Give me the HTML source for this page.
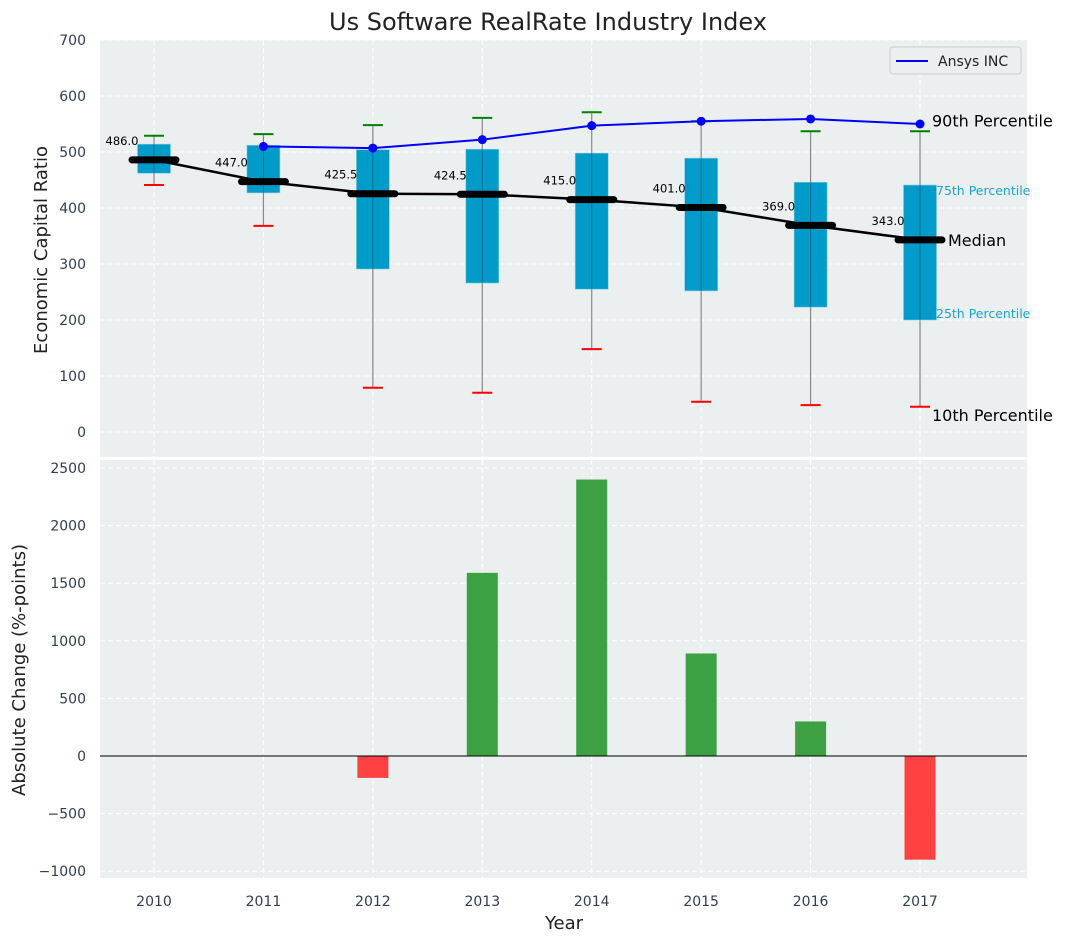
<!DOCTYPE html>
<html><head><meta charset="utf-8"><style>
body{margin:0;background:#fff;}
svg{display:block;font-family:"DejaVu Sans","Liberation Sans",sans-serif;}
</style></head><body>
<svg id="chart" width="1067" height="942" viewBox="0 0 1067 942" xmlns="http://www.w3.org/2000/svg"></svg>
<script>
const years=[2010,2011,2012,2013,2014,2015,2016,2017];
const p10=[441,368,79,70,148,54,48,45];
const p25=[462,427,291,266,255,252,223,200];
const median=[486,447,425.5,424.5,415,401,369,343];
const p75=[514,512,504,505,498,489,446,441];
const p90=[529,532,548,561,571,555,537,537];
const ansysYears=[2011,2012,2013,2014,2015,2016,2017];
const ansys=[510,507,522,547,555,559,550];
const changes=[0,0,-190,1590,2400,890,300,-900];
const topTicks=[0,100,200,300,400,500,600,700];
const botTicks=[-1000,-500,0,500,1000,1500,2000,2500];

const NS="http://www.w3.org/2000/svg";
const svg=document.getElementById('chart');
function el(tag,attrs,parent){const e=document.createElementNS(NS,tag);for(const k in attrs)e.setAttribute(k,attrs[k]);(parent||svg).appendChild(e);return e;}
const X0=100,X1=1027;
const xs=y=>154+(y-2010)*109.43;
const yT=v=>432-v*0.56;
const yB=v=>756-v*0.1152;
const TT=40,TB=457,BT=460,BB=878;

let r=el('rect',{x:X0,y:TT,width:X1-X0,height:TB-TT,fill:'#ebeff0'});

r=el('rect',{x:X0,y:BT,width:X1-X0,height:BB-BT,fill:'#ebeff0'});


years.forEach(y=>{
  el('line',{x1:xs(y),x2:xs(y),y1:TT,y2:TB,stroke:'#fff','stroke-dasharray':'5,3','stroke-width':1});
  el('line',{x1:xs(y),x2:xs(y),y1:BT,y2:BB,stroke:'#fff','stroke-dasharray':'5,3','stroke-width':1});
  const t=el('text',{x:xs(y),y:906,'text-anchor':'middle','font-size':14,fill:'#2e3e50'});t.textContent=y;
  
});
topTicks.forEach(v=>{
  el('line',{x1:X0,x2:X1,y1:yT(v),y2:yT(v),stroke:'#fff','stroke-dasharray':'5,3'});
  const t=el('text',{x:86,y:yT(v)+5,'text-anchor':'end','font-size':14,fill:'#2e3e50'});t.textContent=v;
  
});
botTicks.forEach(v=>{
  el('line',{x1:X0,x2:X1,y1:yB(v),y2:yB(v),stroke:'#fff','stroke-dasharray':'5,3'});
  const t=el('text',{x:86,y:yB(v)+5,'text-anchor':'end','font-size':14,fill:'#2e3e50'});t.textContent=v<0?'\u2212'+(-v):v;
  
});

years.forEach((y,i)=>{
  const x=xs(y);
  let w=el('line',{x1:x,x2:x,y1:yT(p90[i]),y2:yT(p10[i]),stroke:'#888','stroke-width':1.2});
  
  let b=el('rect',{x:x-16.5,y:yT(p75[i]),width:33,height:yT(p25[i])-yT(p75[i]),fill:'#009bc9',stroke:'#7fd0ea','stroke-width':0.6});
  
  el('line',{x1:x,x2:x,y1:yT(p75[i]),y2:yT(p25[i]),stroke:'#1a5c70','stroke-width':1,opacity:0.7});
  let c=el('line',{x1:x-10,x2:x+10,y1:yT(p90[i]),y2:yT(p90[i]),stroke:'green','stroke-width':2});
  
  c=el('line',{x1:x-10,x2:x+10,y1:yT(p10[i]),y2:yT(p10[i]),stroke:'red','stroke-width':2});
  
});
let ml=el('polyline',{points:years.map((y,i)=>xs(y)+','+yT(median[i])).join(' '),fill:'none',stroke:'#000','stroke-width':2.5});

years.forEach((y,i)=>{
  let m=el('line',{x1:xs(y)-22,x2:xs(y)+22,y1:yT(median[i]),y2:yT(median[i]),stroke:'#000','stroke-width':7,'stroke-linecap':'round'});
  
  let t=el('text',{x:xs(y)-32,y:yT(median[i])-15,'text-anchor':'middle','font-size':11.5,fill:'#000'});
  t.textContent=median[i].toFixed(1);
  
});
let al=el('polyline',{points:ansysYears.map((y,i)=>xs(y)+','+yT(ansys[i])).join(' '),fill:'none',stroke:'blue','stroke-width':2});

ansysYears.forEach((y,i)=>{
  let p=el('circle',{cx:xs(y),cy:yT(ansys[i]),r:4.5,fill:'blue'});
  
});
const last=years.length-1,lx=xs(years[last]);
function ann(txt,x,y,size,col,name){const t=el('text',{x:x,y:y,'font-size':size,fill:col});t.textContent=txt;}
ann('90th Percentile',lx+12,yT(p90[last])-5,16,'#000','p90-annotation');
ann('75th Percentile',lx+16,yT(p75[last])+10,12.5,'#1aa3d0','p75-annotation');
ann('Median',lx+28,yT(median[last])+6,16,'#000','median-annotation');
ann('25th Percentile',lx+16,yT(p25[last])-2,12.5,'#1aa3d0','p25-annotation');
ann('10th Percentile',lx+12,yT(p10[last])+14,16,'#000','p10-annotation');

let lg=el('g',{});
el('rect',{x:890,y:47,width:131,height:27,rx:3,fill:'#ebeff0',stroke:'#ccc'},lg);
el('line',{x1:896,x2:928,y1:61,y2:61,stroke:'blue','stroke-width':2},lg);
let lt=el('text',{x:938,y:66,'font-size':14,fill:'#222'},lg);lt.textContent='Ansys INC';

years.forEach((y,i)=>{
  const v=changes[i];if(v===0)return;
  let b=el('rect',{x:xs(y)-15.5,y:Math.min(yB(v),yB(0)),width:31,height:Math.abs(yB(v)-yB(0)),fill:v>0?'#2e9a35':'#ff3333',opacity:0.92});
  
});
el('line',{x1:X0,x2:X1,y1:yB(0),y2:yB(0),stroke:'#000','stroke-width':1});

let t=el('text',{x:548,y:30,'text-anchor':'middle','font-size':24,fill:'#222'});t.textContent='Us Software RealRate Industry Index';

t=el('text',{x:47,y:250,'text-anchor':'middle','font-size':18,fill:'#222',transform:'rotate(-90 47 250)'});t.textContent='Economic Capital Ratio';

t=el('text',{x:25,y:670,'text-anchor':'middle','font-size':18,fill:'#222',transform:'rotate(-90 25 670)'});t.textContent='Absolute Change (%-points)';

t=el('text',{x:564,y:929,'text-anchor':'middle','font-size':18,fill:'#222'});t.textContent='Year';

</script>
</body></html>
